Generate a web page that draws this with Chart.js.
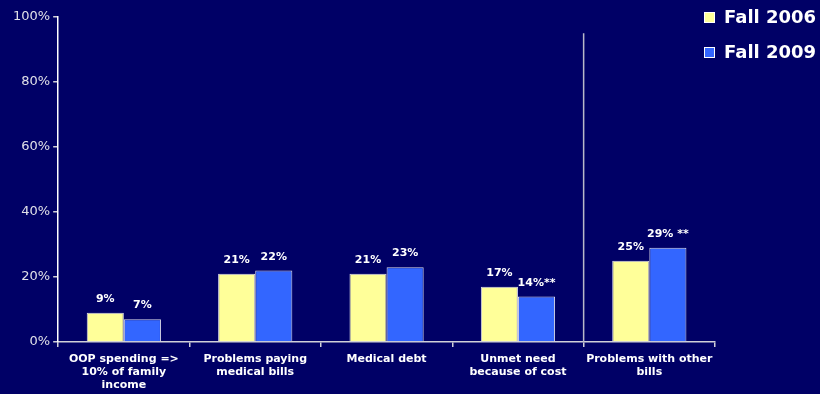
<!DOCTYPE html>
<html>
<head>
<meta charset="utf-8">
<title>Fall 2006 vs Fall 2009</title>
<script src="https://cdn.jsdelivr.net/npm/chart.js@4"></script>
<style>
  html, body { margin: 0; padding: 0; background: #000066; }
  #wrap { width: 820px; height: 394px; position: relative; }
</style>
</head>
<body>
<div id="wrap"><canvas id="myChart"></canvas></div>
<script>
// categories and values (percent of adults)
const categories = [
  ['OOP spending =>', '10% of family', 'income'],
  ['Problems paying', 'medical bills'],
  ['Medical debt'],
  ['Unmet need', 'because of cost'],
  ['Problems with other', 'bills']
];
const fall2006 = [9, 21, 21, 17, 25];
const fall2009 = [7, 22, 23, 14, 29];
// significance marks after the 2009 labels
const marks2009 = ['', '', '', '**', ' **'];
const yTicks = [0, 20, 40, 60, 80, 100];

const yellow = '#ffff99';
const blue = '#3366ff';
const textColor = '#ffffff';

Chart.defaults.font.family = '"DejaVu Sans", sans-serif';

// value labels over each bar
const barLabels = {
  id: 'barLabels',
  afterDatasetsDraw(chart) {
    const ctx = chart.ctx;
    ctx.save();
    ctx.fillStyle = textColor;
    ctx.font = 'bold 11px "DejaVu Sans"';
    ctx.textAlign = 'center';
    ctx.textBaseline = 'alphabetic';
    chart.data.datasets.forEach((ds, i) => {
      chart.getDatasetMeta(i).data.forEach((bar, j) => {
        let txt = ds.data[j] + '%';
        if (i === 1) txt += marks2009[j];
        ctx.fillText(txt, bar.x, bar.y - 11);
      });
    });
    ctx.restore();
  }
};

// vertical divider before the last group
const divider = {
  id: 'divider',
  afterDatasetsDraw(chart) {
    const x = chart.scales.x, y = chart.scales.y;
    const px = (x.getPixelForValue(3) + x.getPixelForValue(4)) / 2;
    const ctx = chart.ctx;
    ctx.save();
    ctx.strokeStyle = '#b8b8c8';
    ctx.lineWidth = 1.5;
    ctx.beginPath();
    ctx.moveTo(px, y.getPixelForValue(95));
    ctx.lineTo(px, y.getPixelForValue(0));
    ctx.stroke();
    ctx.restore();
  }
};

// legend in the top right corner
const sideLegend = {
  id: 'sideLegend',
  afterDraw(chart) {
    const ctx = chart.ctx;
    ctx.save();
    ctx.font = 'bold 18px "DejaVu Sans"';
    ctx.textBaseline = 'middle';
    chart.data.datasets.forEach((ds, i) => {
      const cy = 17 + i * 35;
      ctx.fillStyle = ds.backgroundColor;
      ctx.fillRect(704, cy - 5, 11, 11);
      ctx.strokeStyle = '#ffffff';
      ctx.lineWidth = 1;
      ctx.strokeRect(704.5, cy - 4.5, 10, 10);
      ctx.fillStyle = textColor;
      ctx.fillText(ds.label, 724, cy + 1);
    });
    ctx.restore();
  }
};

var ctx = document.getElementById('myChart');
var chart = new Chart(ctx, {
  type: 'bar',
  data: {
    labels: categories,
    datasets: [{
      label: 'Fall 2006',
      backgroundColor: yellow,
      borderColor: 'rgba(255,255,255,0.85)',
      borderWidth: 1,
      data: fall2006
    },
    {
      label: 'Fall 2009',
      backgroundColor: blue,
      borderColor: 'rgba(255,255,255,0.85)',
      borderWidth: 1,
      data: fall2009
    }]
  },
  options: {
    responsive: true,
    maintainAspectRatio: false,
    animation: false,
    categoryPercentage: 0.565,
    barPercentage: 1,
    layout: { padding: { left: 10, right: 105, top: 17, bottom: 0 } },
    plugins: {
      legend: { display: false },
      tooltip: { enabled: false }
    },
    scales: {
      x: {
        afterFit(scale) {
          scale.height = 52;
        },
        grid: {
          offset: true,
          drawOnChartArea: false,
          color: '#d0d0d8',
          tickLength: 5,
          lineWidth: 1.5
        },
        border: { color: '#d0d0d8', width: 1.5 },
        ticks: {
          color: textColor,
          font: { size: 11, weight: 'bold', lineHeight: 1.18 },
          maxRotation: 0,
          autoSkip: false,
          padding: 6
        }
      },
      y: {
        min: 0,
        max: 100,
        afterBuildTicks(axis) {
          axis.ticks = yTicks.map(v => ({ value: v }));
        },
        grid: {
          drawOnChartArea: false,
          color: '#d0d0d8',
          tickLength: 5,
          lineWidth: 1.5
        },
        border: { color: '#ffffff', width: 1.5 },
        ticks: {
          color: '#e0e0e8',
          font: { size: 13 },
          padding: 3,
          callback: v => v + '%'
        }
      }
    }
  },
  plugins: [barLabels, divider, sideLegend]
});
</script>
</body>
</html>
